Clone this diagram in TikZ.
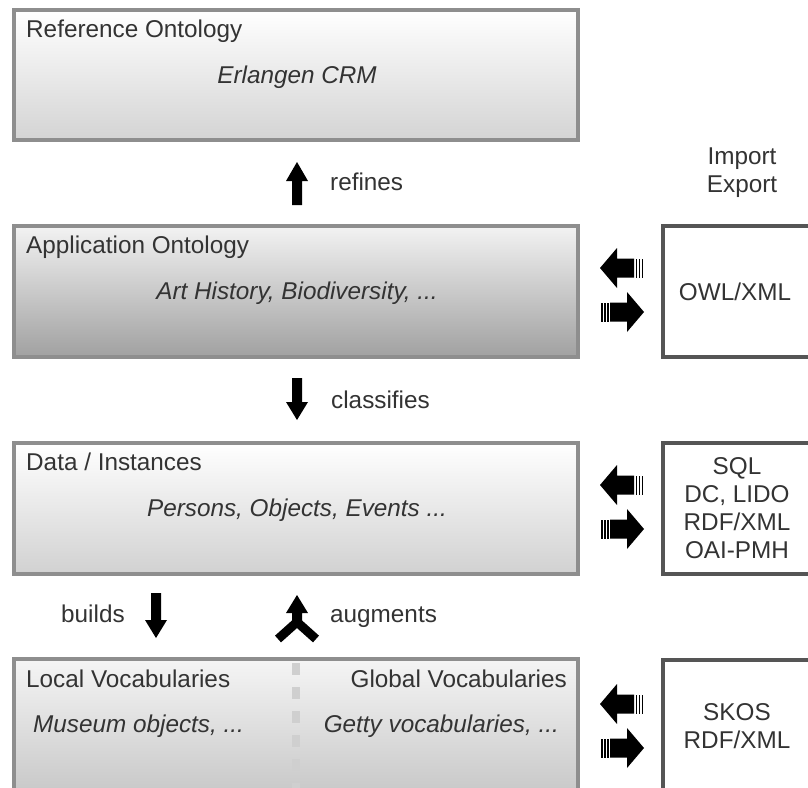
\documentclass[tikz,border=0pt]{standalone}
\usepackage{fontspec}
\setmainfont{Liberation Sans}
\definecolor{txt}{HTML}{333333}
\definecolor{lborder}{HTML}{8E8E8E}
\definecolor{rborder}{HTML}{555555}
\definecolor{dashc}{HTML}{CFCFCF}
\newcommand\dfont{\fontsize{24.3}{28}\selectfont}
\tikzset{
  lbox/.style={draw=lborder, line width=3.5pt, shading=axis, minimum width=564pt, inner sep=0pt},
  rbox/.style={draw=rborder, line width=4pt, fill=white, minimum width=152pt, minimum height=131pt, inner sep=0pt},
  ttl/.style={anchor=base west, text=txt, font=\dfont, inner sep=0pt},
  sub/.style={anchor=base, text=txt, font=\dfont\itshape, inner sep=0pt},
  lbl/.style={anchor=base west, text=txt, font=\dfont, inner sep=0pt},
  rtxt/.style={text=txt, font=\dfont, align=center, inner sep=0pt},
  pics/larrow/.style={code={
    \fill (-22,0) -- (-5,-20) -- (-5,-9.5) -- (12,-9.5) -- (12,9.5) -- (-5,9.5) -- (-5,20) -- cycle;
    \fill (13.5,-9.5) rectangle (15,9.5);
    \fill (16.5,-9.5) rectangle (18,9.5);
    \fill (19.5,-9.5) rectangle (21,9.5);
  }},
  pics/rarrow/.style={code={
    \fill (22,0) -- (5,-20) -- (5,-9.5) -- (-12,-9.5) -- (-12,9.5) -- (5,9.5) -- (5,20) -- cycle;
    \fill (-13.5,-9.5) rectangle (-15,9.5);
    \fill (-16.5,-9.5) rectangle (-18,9.5);
    \fill (-19.5,-9.5) rectangle (-21,9.5);
  }}
}
\begin{document}
\begin{tikzpicture}[x=1pt,y=-1pt]
\useasboundingbox (0,0) rectangle (808,787);
\clip (0,0) rectangle (808,787);
\fill[white] (0,0) rectangle (808,787);

% left boxes
\node[lbox, minimum height=130pt, top color=white, bottom color=black!17] (ref) at (296,75) {};
\node[lbox, minimum height=131pt, top color=black!5, bottom color=black!37] (app) at (296,291.5) {};
\node[lbox, minimum height=131pt, top color=white, bottom color=black!18] (data) at (296,508.5) {};
\node[lbox, minimum height=131pt, top color=black!4, bottom color=black!21] (voc) at (296,724.5) {};
\draw[dashc, line width=8pt, dash pattern=on 12pt off 12pt] (296,663) -- (296,792);

% texts in left boxes
\node[ttl] (reft) at (26,37) {Reference Ontology};
\node[sub] (refs) at (297,83) {Erlangen CRM};
\node[ttl] (appt) at (26,253) {Application Ontology};
\node[sub] (apps) at (297,299) {Art History, Biodiversity, ...};
\node[ttl] (datat) at (26,470) {Data / Instances};
\node[sub] (datas) at (297,516) {Persons, Objects, Events ...};
\node[ttl] (loct) at (26,687) {Local Vocabularies};
\node[ttl, anchor=base east] (glot) at (567,687) {Global Vocabularies};
\node[sub, anchor=base west] (locs) at (33,732) {Museum objects, ...};
\node[sub, anchor=base east] (glos) at (559,732) {Getty vocabularies, ...};

% right boxes
\node[rbox] (owl) at (739,291.5) {};
\node[rbox] (sql) at (739,508.5) {};
\node[rbox] (skos) at (739,725.5) {};
\node[rtxt] (owlt) at (735,292) {OWL/XML};
\node[rtxt] (sqlt) at (737,508) {SQL\\DC, LIDO\\RDF/XML\\OAI-PMH};
\node[rtxt] (skost) at (737,726) {SKOS\\RDF/XML};
\node[rtxt] (ie) at (742,173) {Import\\Export};

% import/export arrows
\pic at (622,268) {larrow};
\pic at (622,312) {rarrow};
\pic at (622,485) {larrow};
\pic at (622,529) {rarrow};
\pic at (622,704) {larrow};
\pic at (622,748) {rarrow};

% refines (up)
\fill (297,162) -- (308,181) -- (302,181) -- (302,205) -- (292,205) -- (292,181) -- (286,181) -- cycle;
\node[lbl] (refl) at (330,190) {refines};
% classifies (down)
\fill (297,420) -- (308,402) -- (302,402) -- (302,378) -- (292,378) -- (292,402) -- (286,402) -- cycle;
\node[lbl] (clal) at (331,408) {classifies};
% builds (down)
\fill (156,638) -- (167,620) -- (161,620) -- (161,593) -- (151,593) -- (151,620) -- (145,620) -- cycle;
\node[lbl] (buil) at (61,622) {builds};
% augments (fork)
\fill (297,595) -- (308,613) -- (302,613) -- (302,624) -- (292,624) -- (292,613) -- (286,613) -- cycle;
\draw[line width=9pt, line join=miter] (278,639) -- (297,622) -- (316,639);
\node[lbl] (augl) at (330,622) {augments};
\end{tikzpicture}
\end{document}
